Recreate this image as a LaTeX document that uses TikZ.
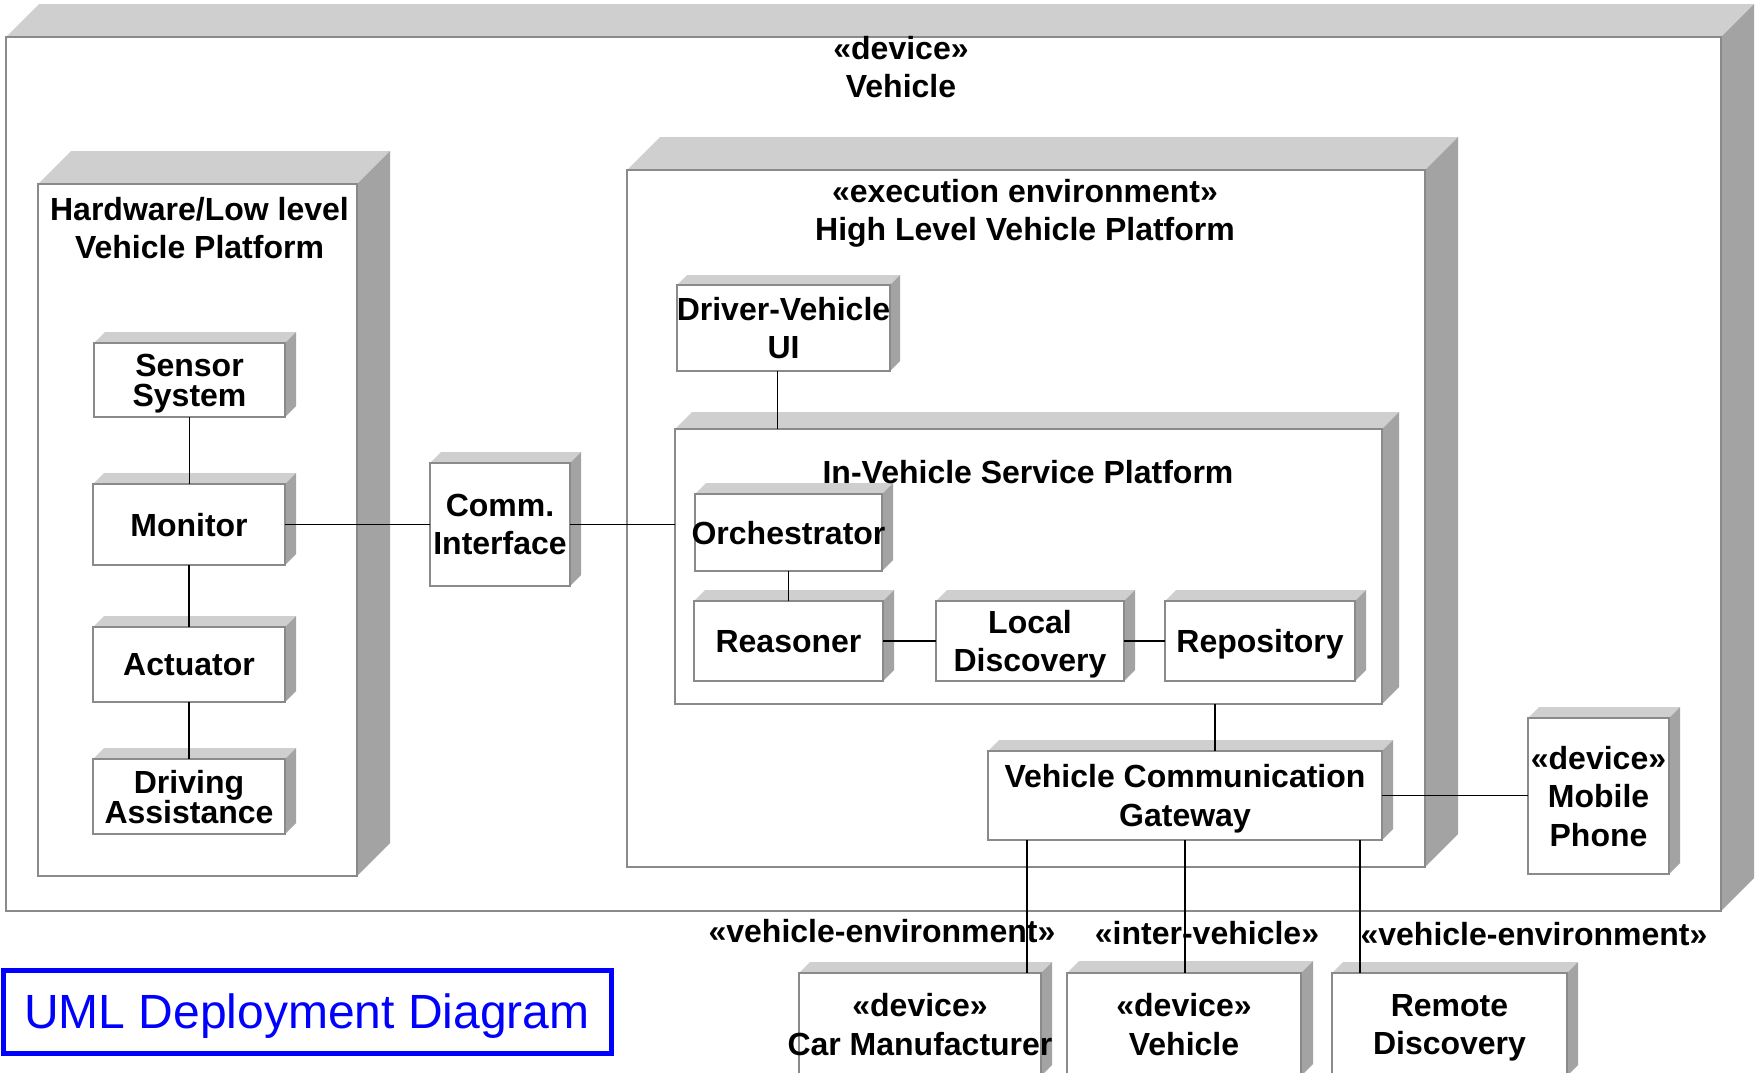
\documentclass[tikz,border=0pt]{standalone}
\usepackage{fontspec}
\setmainfont{Liberation Sans}
\usetikzlibrary{calc}

\definecolor{topface}{HTML}{CFCFCF}
\definecolor{sideface}{HTML}{A3A3A3}
\definecolor{edgegray}{HTML}{8A8A8A}
\definecolor{titleblue}{HTML}{0000FF}

\newcommand\lbl{\fontsize{16}{19.2}\selectfont\bfseries}
\newcommand\lbltight{\fontsize{16}{15}\selectfont\bfseries}

\tikzset{
  frontface/.style={draw=edgegray, fill=white, line width=0.8pt, inner sep=0pt, outer sep=0pt},
  % descenders of the last row do not move the text off centre
  nodescent/.style={text depth=0pt},
  boxtext/.style={align=center, font=\lbl, inner sep=0pt, nodescent},
  tighttext/.style={font=\lbltight},
  conn/.style={draw=black, line width=0.7pt},
  nodetitle/.style={align=center, font=\lbl, inner sep=0pt},
  stereo/.style={font=\lbl, inner sep=0pt},
}

% 3-D node: #1 text options, #2 name, #3..#6 front face corners, #7 depth, #8 text
\newcommand\devbox[8][]{%
  \fill[topface] (#3,#4) -- ({#3+#7},{#4-#7}) -- ({#5+#7},{#4-#7}) -- (#5,#4) -- cycle;
  \fill[sideface] (#5,#4) -- ({#5+#7},{#4-#7}) -- ({#5+#7},{#6-#7}) -- (#5,#6) -- cycle;
  \node[frontface, minimum width={(#5-#3)*0.5pt}, minimum height={(#6-#4)*0.5pt}]
    (#2) at ({(#3+#5)/2},{(#4+#6)/2}) {};
  \node[boxtext, #1] (#2-text) at (#2.center) {#8};
}

\begin{document}
\begin{tikzpicture}[x=0.5pt, y=-0.5pt]
\useasboundingbox (0,0) rectangle (1757,1072);
\clip (0,0) rectangle (1757,1072);

% outer device
\devbox{vehicle}{6}{37}{1721}{911}{33}{}
\node[nodetitle] (vehicle-title) at (901,67) {«device»\\Vehicle};

% low level platform
\devbox{hw}{38}{184}{357}{876}{33}{}
\node[nodetitle] (hw-title) at (199.5,228) {Hardware/Low level\\Vehicle Platform};
\devbox[tighttext]{sensor}{94}{343}{285}{417}{11}{Sensor\\System}
\devbox{monitor}{93}{484}{285}{565}{11}{Monitor}
\devbox{actuator}{93}{627}{285}{702}{11}{Actuator}
\devbox[tighttext]{driving}{93}{759}{285}{834}{11}{Driving\\Assistance}

\devbox{comm}{430}{463}{570}{586}{11}{Comm.\\Interface}

% high level platform
\devbox{hlvp}{627}{170}{1425}{867}{33}{}
\node[nodetitle] (hlvp-title) at (1025,213) {«execution environment»\\High Level Vehicle Platform};
\devbox{dvui}{677}{285}{890}{371}{10}{Driver-Vehicle\\UI}
\devbox{ivsp}{675}{429}{1382}{704}{17}{}
\devbox{orch}{695}{494}{882}{571}{11}{Orchestrator}
\devbox{reasoner}{694}{601}{883}{681}{11}{Reasoner}
\devbox{localdisc}{936}{601}{1124}{681}{11}{Local\\Discovery}
\devbox{repo}{1165}{601}{1355}{681}{11}{Repository}
\node[nodetitle] (ivsp-title) at (1028,472) {In-Vehicle Service Platform};
\devbox{vcg}{988}{751}{1382}{840}{11}{Vehicle Communication\\Gateway}

\devbox{mobile}{1528}{718}{1669}{874}{11}{«device»\\Mobile\\Phone}

% external nodes
\devbox{carmf}{799}{973}{1041}{1076}{11}{«device»\\Car Manufacturer}
\devbox{othveh}{1067}{973}{1301}{1076}{12}{«device»\\Vehicle}
\devbox{remote}{1332}{973}{1567}{1076}{11}{Remote\\Discovery}

% caption
\node[draw=titleblue, line width=2.5pt, text=titleblue, inner sep=0pt,
      minimum width={608*0.5pt}, minimum height={83*0.5pt}, text depth=0pt,
      font=\fontsize{24}{28}\selectfont] (caption) at (307,1011.5) {UML Deployment Diagram};

% link stereotypes
\node[stereo] (st-carmf) at (882,931) {«vehicle-environment»};
\node[stereo] (st-othveh) at (1207,933) {«inter-vehicle»};
\node[stereo] (st-remote) at (1534,934) {«vehicle-environment»};

% connectors
\draw[conn] (sensor.south) -- (sensor.south |- monitor.north);
\draw[conn] (monitor.south) -- (monitor.south |- actuator.north);
\draw[conn] (actuator.south) -- (actuator.south |- driving.north);
\draw[conn] (monitor.east) -- (monitor.east -| comm.west);
\draw[conn] (comm.east) -- (comm.east -| ivsp.west);
\draw[conn] ([xshift=-3pt]dvui.south) coordinate (uiplug) -- (uiplug |- ivsp.north);
\draw[conn] (orch.south) -- (orch.south |- reasoner.north);
\draw[conn] (reasoner.east) -- (reasoner.east -| localdisc.west);
\draw[conn] (localdisc.east) -- (localdisc.east -| repo.west);
\draw[conn] ([xshift=15pt]vcg.north) coordinate (gwup) -- (gwup |- ivsp.south);
\draw[conn] (vcg.east) -- (vcg.east -| mobile.west);
\draw[conn] ([xshift=19.5pt]vcg.south west) coordinate (gwa) -- (gwa |- carmf.north);
\draw[conn] (vcg.south) -- (vcg.south |- othveh.north);
\draw[conn] ([xshift=-11pt]vcg.south east) coordinate (gwc) -- (gwc |- remote.north);
\end{tikzpicture}
\end{document}
